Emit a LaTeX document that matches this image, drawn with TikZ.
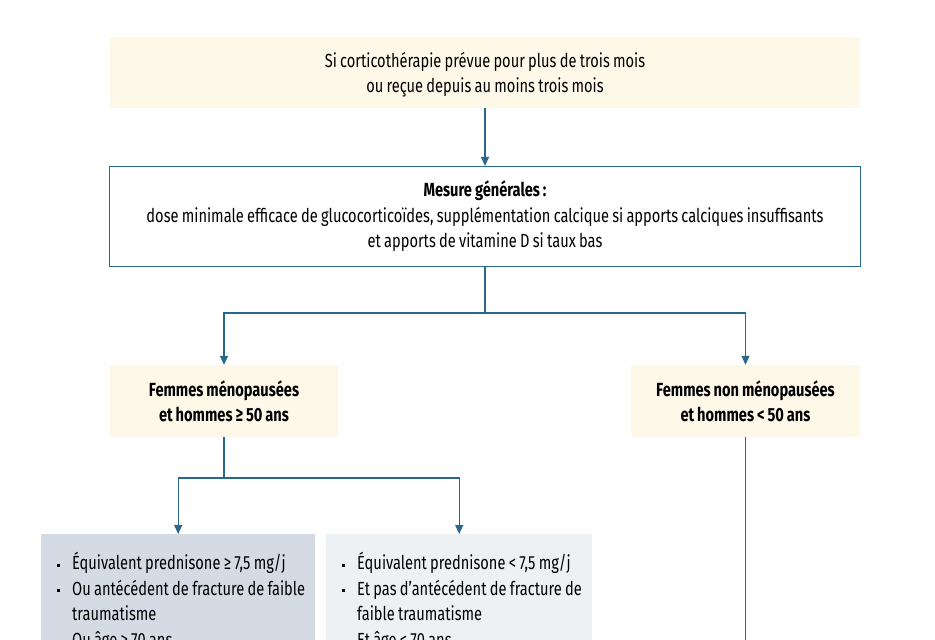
\documentclass[tikz,border=0pt]{standalone}
\usepackage{fontspec}
\setmainfont{Fira Sans}[FakeStretch=0.77, WordSpace=0.85]
\usetikzlibrary{arrows.meta}

\definecolor{trait}{HTML}{2A6889}
\definecolor{creme}{HTML}{FDF8E8}
\definecolor{ardoise}{HTML}{D4DBE5}
\definecolor{brume}{HTML}{EEF1F4}

\newcommand{\puce}{\rule[0.3ex]{2.8pt}{2.8pt}}
\newenvironment{puces}{\raggedright\spaceskip=0pt\xspaceskip=0pt\begin{list}{\puce}{\setlength{\leftmargin}{17pt}\setlength{\rightmargin}{-40pt}\setlength{\labelwidth}{3pt}\setlength{\labelsep}{12pt}\setlength{\itemsep}{0pt}\setlength{\parsep}{0pt}\setlength{\topsep}{0pt}\setlength{\partopsep}{0pt}}}{\end{list}}

\tikzset{
	texte/.style = {font=\fontsize{19}{25.5}\selectfont, align=center, inner sep=0pt},
	fleche/.style = {draw=trait, line width=1.3pt, -{Triangle[length=9pt,width=8pt]}},
	ligne/.style = {draw=trait, line width=1.3pt}
}

\begin{document}
\begin{tikzpicture}[x=1pt, y=-1pt]
		\useasboundingbox (0,0) rectangle (935,640);

		\draw (485,72.5) node[texte, fill=creme, minimum width=750pt, minimum height=71pt, text depth=0pt] (cortico) {Si corticothérapie prévue pour plus de trois mois\\ou reçue depuis au moins trois mois};
		\draw (485,216.5) node[texte, draw=trait, line width=1.3pt, fill=white, minimum width=751pt, minimum height=100pt] (mesures) {\textbf{Mesure générales :}\\dose minimale efficace de glucocorticoïdes, supplémentation calcique si apports calciques insuffisants\\et apports de vitamine D si taux bas};

		\draw (224,401) node[texte, fill=creme, minimum width=228pt, minimum height=72pt] (meno) {\textbf{Femmes ménopausées}\\\textbf{et hommes ≥ 50 ans}};
		\draw (745.5,401) node[texte, fill=creme, minimum width=229pt, minimum height=72pt] (nonmeno) {\textbf{Femmes non ménopausées}\\\textbf{et hommes < 50 ans}};

		\draw (41,534) node[texte, anchor=north west, align=left, fill=ardoise, inner xsep=14pt, inner ysep=10pt, text width=246pt] (fort) {\begin{puces}
			\item Équivalent prednisone ≥ 7,5 mg/j
			\item Ou antécédent de fracture de faible\\traumatisme
			\item Ou âge ≥ 70 ans
		\end{puces}};
		\draw (326,534) node[texte, anchor=north west, align=left, fill=brume, inner xsep=14pt, inner ysep=10pt, text width=238pt] (faible) {\begin{puces}
			\item Équivalent prednisone < 7,5 mg/j
			\item Et pas d'antécédent de fracture de\\faible traumatisme
			\item Et âge < 70 ans
		\end{puces}};

		\coordinate (noeud1) at (485,313);
		\coordinate (noeud2) at (224,478);
		\coordinate (bas) at (745.5,645);

		\draw [fleche] (cortico) -- (mesures);
		\draw [fleche] (mesures) -- (noeud1) -| (meno);
		\draw [fleche] (noeud1) -| (nonmeno);
		\draw [fleche] (meno) -- (noeud2) -| (fort);
		\draw [fleche] (noeud2) -| (faible);
		\draw [ligne] (nonmeno) -- (bas);
	\end{tikzpicture}
\end{document}
